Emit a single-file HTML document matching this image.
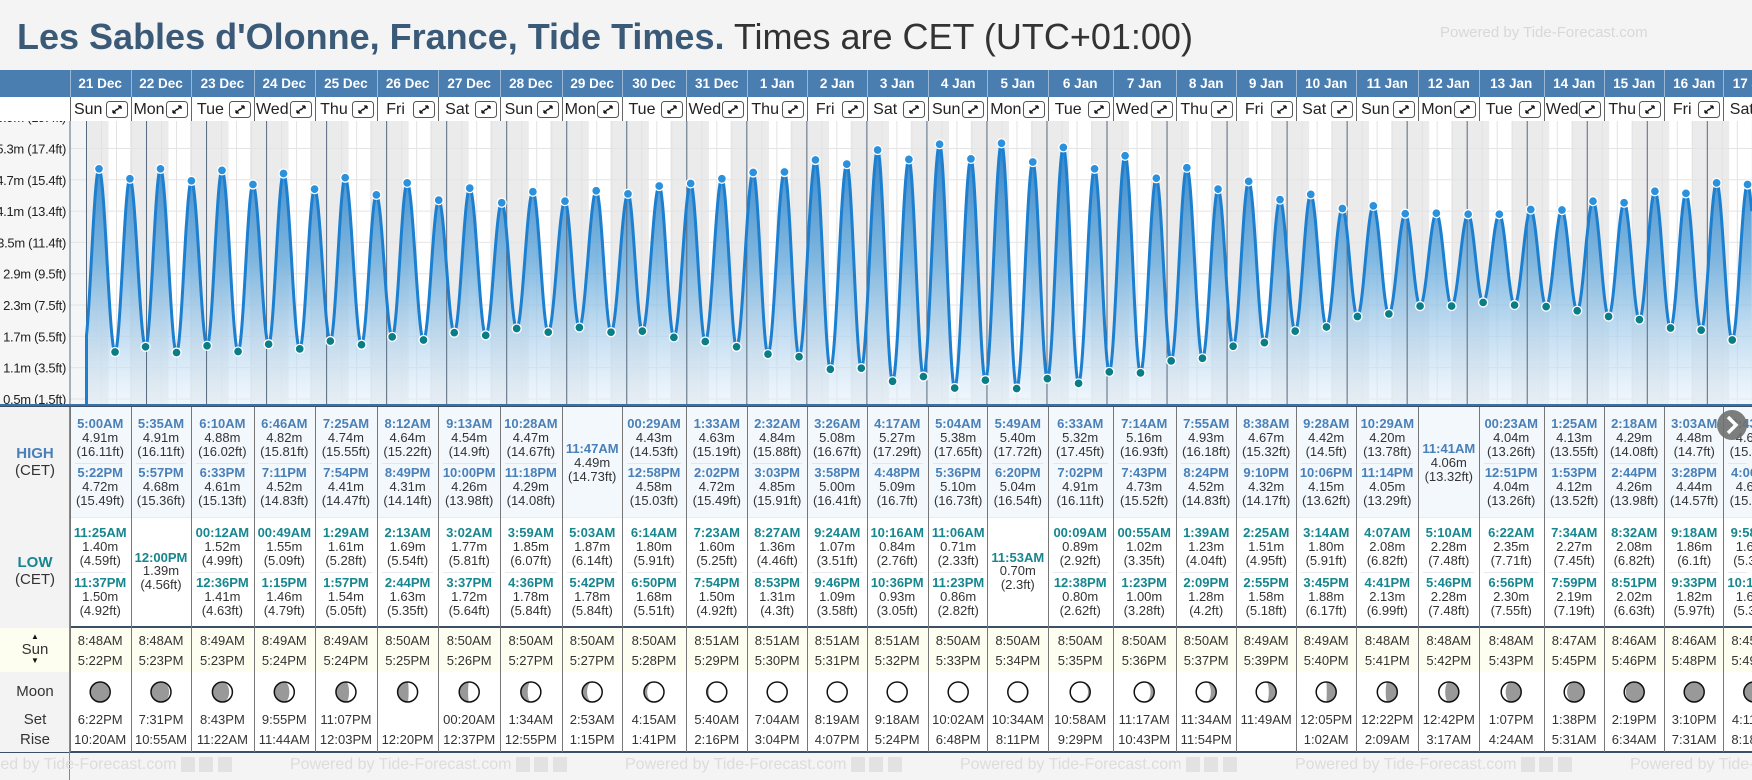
<!DOCTYPE html>
<html><head><meta charset="utf-8">
<style>
*{box-sizing:border-box}
html,body{margin:0;width:1752px;height:780px;overflow:hidden}
body{background:#f4f4f4;font-family:"Liberation Sans",Arial,sans-serif;position:relative}
#wrap{position:absolute;left:0;top:0;width:1752px;height:780px;overflow:hidden}
.a{position:absolute}
.t{position:absolute;left:17px;top:17px;font-size:36px;line-height:40px;white-space:nowrap;color:#333}
.t b{color:#3b5a78}
.pw{position:absolute;top:24px;left:1440px;font-size:15px;color:#d8d8d8;white-space:nowrap}
.c{position:absolute;text-align:center;white-space:nowrap;font-size:13px;line-height:14px;color:#333;overflow:hidden}
.hb{font-weight:bold;color:#4a80b8}
.lb{font-weight:bold;color:#16868f}
</style></head><body>
<div id="wrap">
<div class="t"><b>Les Sables d'Olonne, France, Tide Times.</b> Times are CET (UTC+01:00)</div>
<div class="pw">Powered by Tide-Forecast.com</div>
<div id="root"></div>
</div>
<script>
const B=[69.7,130.5,191.3,253.5,315.1,376.8,438.4,500,561.7,621.7,686.3,746.7,806.7,866.7,927.7,987.3,1047.7,1112.7,1175.7,1235.7,1295.7,1356.3,1418.3,1478.7,1543.7,1603.7,1663.7,1723.3,1752];
const D=[
["21 Dec","Sun",[["5:00AM","4.91","16.11"],["5:22PM","4.72","15.49"]],[["11:25AM","1.40","4.59"],["11:37PM","1.50","4.92"]],["8:48AM","5:22PM"],["6:22PM","10:20AM"]],
["22 Dec","Mon",[["5:35AM","4.91","16.11"],["5:57PM","4.68","15.36"]],[["12:00PM","1.39","4.56"]],["8:48AM","5:23PM"],["7:31PM","10:55AM"]],
["23 Dec","Tue",[["6:10AM","4.88","16.02"],["6:33PM","4.61","15.13"]],[["00:12AM","1.52","4.99"],["12:36PM","1.41","4.63"]],["8:49AM","5:23PM"],["8:43PM","11:22AM"]],
["24 Dec","Wed",[["6:46AM","4.82","15.81"],["7:11PM","4.52","14.83"]],[["00:49AM","1.55","5.09"],["1:15PM","1.46","4.79"]],["8:49AM","5:24PM"],["9:55PM","11:44AM"]],
["25 Dec","Thu",[["7:25AM","4.74","15.55"],["7:54PM","4.41","14.47"]],[["1:29AM","1.61","5.28"],["1:57PM","1.54","5.05"]],["8:49AM","5:24PM"],["11:07PM","12:03PM"]],
["26 Dec","Fri",[["8:12AM","4.64","15.22"],["8:49PM","4.31","14.14"]],[["2:13AM","1.69","5.54"],["2:44PM","1.63","5.35"]],["8:50AM","5:25PM"],["","12:20PM"]],
["27 Dec","Sat",[["9:13AM","4.54","14.9"],["10:00PM","4.26","13.98"]],[["3:02AM","1.77","5.81"],["3:37PM","1.72","5.64"]],["8:50AM","5:26PM"],["00:20AM","12:37PM"]],
["28 Dec","Sun",[["10:28AM","4.47","14.67"],["11:18PM","4.29","14.08"]],[["3:59AM","1.85","6.07"],["4:36PM","1.78","5.84"]],["8:50AM","5:27PM"],["1:34AM","12:55PM"]],
["29 Dec","Mon",[["11:47AM","4.49","14.73"]],[["5:03AM","1.87","6.14"],["5:42PM","1.78","5.84"]],["8:50AM","5:27PM"],["2:53AM","1:15PM"]],
["30 Dec","Tue",[["00:29AM","4.43","14.53"],["12:58PM","4.58","15.03"]],[["6:14AM","1.80","5.91"],["6:50PM","1.68","5.51"]],["8:50AM","5:28PM"],["4:15AM","1:41PM"]],
["31 Dec","Wed",[["1:33AM","4.63","15.19"],["2:02PM","4.72","15.49"]],[["7:23AM","1.60","5.25"],["7:54PM","1.50","4.92"]],["8:51AM","5:29PM"],["5:40AM","2:16PM"]],
["1 Jan","Thu",[["2:32AM","4.84","15.88"],["3:03PM","4.85","15.91"]],[["8:27AM","1.36","4.46"],["8:53PM","1.31","4.3"]],["8:51AM","5:30PM"],["7:04AM","3:04PM"]],
["2 Jan","Fri",[["3:26AM","5.08","16.67"],["3:58PM","5.00","16.41"]],[["9:24AM","1.07","3.51"],["9:46PM","1.09","3.58"]],["8:51AM","5:31PM"],["8:19AM","4:07PM"]],
["3 Jan","Sat",[["4:17AM","5.27","17.29"],["4:48PM","5.09","16.7"]],[["10:16AM","0.84","2.76"],["10:36PM","0.93","3.05"]],["8:51AM","5:32PM"],["9:18AM","5:24PM"]],
["4 Jan","Sun",[["5:04AM","5.38","17.65"],["5:36PM","5.10","16.73"]],[["11:06AM","0.71","2.33"],["11:23PM","0.86","2.82"]],["8:50AM","5:33PM"],["10:02AM","6:48PM"]],
["5 Jan","Mon",[["5:49AM","5.40","17.72"],["6:20PM","5.04","16.54"]],[["11:53AM","0.70","2.3"]],["8:50AM","5:34PM"],["10:34AM","8:11PM"]],
["6 Jan","Tue",[["6:33AM","5.32","17.45"],["7:02PM","4.91","16.11"]],[["00:09AM","0.89","2.92"],["12:38PM","0.80","2.62"]],["8:50AM","5:35PM"],["10:58AM","9:29PM"]],
["7 Jan","Wed",[["7:14AM","5.16","16.93"],["7:43PM","4.73","15.52"]],[["00:55AM","1.02","3.35"],["1:23PM","1.00","3.28"]],["8:50AM","5:36PM"],["11:17AM","10:43PM"]],
["8 Jan","Thu",[["7:55AM","4.93","16.18"],["8:24PM","4.52","14.83"]],[["1:39AM","1.23","4.04"],["2:09PM","1.28","4.2"]],["8:50AM","5:37PM"],["11:34AM","11:54PM"]],
["9 Jan","Fri",[["8:38AM","4.67","15.32"],["9:10PM","4.32","14.17"]],[["2:25AM","1.51","4.95"],["2:55PM","1.58","5.18"]],["8:49AM","5:39PM"],["11:49AM",""]],
["10 Jan","Sat",[["9:28AM","4.42","14.5"],["10:06PM","4.15","13.62"]],[["3:14AM","1.80","5.91"],["3:45PM","1.88","6.17"]],["8:49AM","5:40PM"],["12:05PM","1:02AM"]],
["11 Jan","Sun",[["10:29AM","4.20","13.78"],["11:14PM","4.05","13.29"]],[["4:07AM","2.08","6.82"],["4:41PM","2.13","6.99"]],["8:48AM","5:41PM"],["12:22PM","2:09AM"]],
["12 Jan","Mon",[["11:41AM","4.06","13.32"]],[["5:10AM","2.28","7.48"],["5:46PM","2.28","7.48"]],["8:48AM","5:42PM"],["12:42PM","3:17AM"]],
["13 Jan","Tue",[["00:23AM","4.04","13.26"],["12:51PM","4.04","13.26"]],[["6:22AM","2.35","7.71"],["6:56PM","2.30","7.55"]],["8:48AM","5:43PM"],["1:07PM","4:24AM"]],
["14 Jan","Wed",[["1:25AM","4.13","13.55"],["1:53PM","4.12","13.52"]],[["7:34AM","2.27","7.45"],["7:59PM","2.19","7.19"]],["8:47AM","5:45PM"],["1:38PM","5:31AM"]],
["15 Jan","Thu",[["2:18AM","4.29","14.08"],["2:44PM","4.26","13.98"]],[["8:32AM","2.08","6.82"],["8:51PM","2.02","6.63"]],["8:46AM","5:46PM"],["2:19PM","6:34AM"]],
["16 Jan","Fri",[["3:03AM","4.48","14.7"],["3:28PM","4.44","14.57"]],[["9:18AM","1.86","6.1"],["9:33PM","1.82","5.97"]],["8:46AM","5:48PM"],["3:10PM","7:31AM"]],
["17 Jan","Sat",[["3:43AM","4.64","15.22"],["4:06PM","4.61","15.12"]],[["9:58AM","1.63","5.35"],["10:13PM","1.62","5.31"]],["8:45AM","5:49PM"],["4:11PM","8:18AM"]]
];
function P(s){const m=/(\d+):(\d+)(AM|PM)/.exec(s);let h=(+m[1])%12;if(m[3]=="PM")h+=12;return (h+ +m[2]/60)/24;}
const X=d=>86.5+d*60.03, Y=h=>399-(h-0.5)*52.2;
let ev=[[-0.045,1.45,0],[28.19,4.7,1]];
D.forEach((c,i)=>{c[2].forEach(e=>ev.push([i+P(e[0]),+e[1],1]));c[3].forEach(e=>ev.push([i+P(e[0]),+e[1],0]));});
ev.sort((a,b)=>a[0]-b[0]);
let s='';
let g=`<svg class="a" style="left:0;top:121px" width="1752" height="286" viewBox="0 121 1752 286">
<defs><linearGradient id="gf" x1="0" y1="0" x2="0" y2="1" gradientUnits="objectBoundingBox">
<stop offset="0" stop-color="#2a7fc6" stop-opacity="0.95"/><stop offset="0.45" stop-color="#6eaedd" stop-opacity="0.85"/><stop offset="1" stop-color="#e6f1fb" stop-opacity="0.55"/></linearGradient></defs>
<rect x="0" y="121" width="70" height="284" fill="#f6f6f6"/><rect x="70" y="121" width="1682" height="284" fill="#f3f5f7"/>`;
for(let d=0;d<28;d++){const sr=P(D[d][4][0]),ss=P(D[d][4][1]);
g+=`<rect x="${X(d)}" y="121" width="${X(d+sr)-X(d)}" height="284" fill="#ebebeb"/><rect x="${X(d+sr)}" y="121" width="${X(d+ss)-X(d+sr)}" height="284" fill="#fff"/><rect x="${X(d+ss)}" y="121" width="${X(d+1)-X(d+ss)}" height="284" fill="#ebebeb"/>`;
[0.25,0.5,0.75].forEach(f=>g+=`<line x1="${X(d+f)}" x2="${X(d+f)}" y1="121" y2="405" stroke="#e2e2e2" stroke-width="1"/>`);}
const lv=[[5.9,"19.4"],[5.3,"17.4"],[4.7,"15.4"],[4.1,"13.4"],[3.5,"11.4"],[2.9,"9.5"],[2.3,"7.5"],[1.7,"5.5"],[1.1,"3.5"],[0.5,"1.5"]];
lv.forEach(l=>{g+=`<line x1="70" x2="1752" y1="${Y(l[0])}" y2="${Y(l[0])}" stroke="#e4e4e4"/>`;
g+=`<text x="66" y="${Y(l[0])+5}" text-anchor="end" font-size="13" letter-spacing="-0.3" fill="#222">${l[0].toFixed(1)}m (${l[1]}ft)</text>`;});
function H(d){let k=0;while(k<ev.length-1&&ev[k+1][0]<d)k++;const a=ev[k],b=ev[k+1];const f=(d-a[0])/(b[0]-a[0]);return a[1]+(b[1]-a[1])*(1-Math.cos(Math.PI*f))/2;}
let pts=[];for(let d=0;d<=27.75;d+=0.01)pts.push(X(d).toFixed(1)+","+Y(H(d)).toFixed(1));
g+=`<path d="M86.5,405 L${pts.join(" L")} L1752,405Z" fill="url(#gf)"/>`;
for(let d=0;d<=27;d++)g+=`<line x1="${X(d)}" x2="${X(d)}" y1="121" y2="405" stroke="#56697d" stroke-width="1"/>`;
g+=`<line x1="70" x2="70" y1="121" y2="405" stroke="#56697d"/>`;
g+=`<path d="M86.5,405 L${pts.join(" L")}" fill="none" stroke="#1c7fcf" stroke-width="3" stroke-linejoin="round"/>`;
ev.forEach(e=>{if(e[0]<0||e[0]>27.7)return;g+=`<circle cx="${X(e[0])}" cy="${Y(e[1])}" r="4.5" fill="${e[2]?'#2b91dc':'#0b7d87'}" stroke="#fff" stroke-width="1.3"/>`;});
g+=`<rect x="0" y="404" width="1752" height="2" fill="#3a72a6"/><rect x="0" y="406" width="1752" height="1.5" fill="#3b5068"/></svg>`;
s+=g;
s+=`<div class="a" style="left:0;top:70px;width:1752px;height:27px;background:#4a7db0"></div>`;
s+=`<div class="a" style="left:0;top:97px;width:1752px;height:24px;background:#fff"></div>`;
s+=`<div class="a" style="left:0;top:407px;width:1752px;height:110px;background:#f3f8fd"></div>`;
s+=`<div class="a" style="left:0;top:517px;width:1752px;height:109px;background:#fff;border-top:1px solid #e6ecf2"></div>`;
s+=`<div class="a" style="left:0;top:626px;width:1752px;height:2px;background:#3b5068"></div>`;
s+=`<div class="a" style="left:0;top:628px;width:1752px;height:44px;background:#fdfdf0"></div>`;
s+=`<div class="a" style="left:0;top:672px;width:1752px;height:80px;background:#fff"></div>`;
s+=`<div class="a" style="left:0;top:751px;width:1752px;height:1.5px;background:#3b5068"></div>`;
s+=`<div class="a" style="left:0;top:407px;width:70px;height:345px;background:#f3f3f3"></div>`;
s+=`<div class="a" style="left:0;top:628px;width:70px;height:44px;background:#fdfdf0"></div>`;
s+=`<div class="a" style="left:69px;top:407px;width:1px;height:373px;background:#888"></div>`;
const L=(y,txt,st)=>`<div class="c" style="left:0;width:70px;top:${y-8}px;line-height:16px;${st}">${txt}</div>`;
s+=L(454,"HIGH","font-size:15px;font-weight:bold;color:#4a80b8")+L(471,"(CET)","font-size:15px;color:#333");
s+=L(563,"LOW","font-size:15px;font-weight:bold;color:#16868f")+L(580,"(CET)","font-size:15px;color:#333");
s+=L(637,"▲","font-size:8px;color:#111")+L(650,"Sun","font-size:15px;color:#333")+L(661,"▼","font-size:8px;color:#111");
s+=L(692,"Moon","font-size:15px;color:#333")+L(720,"Set","font-size:15px;color:#333")+L(740,"Rise","font-size:15px;color:#333");
const C=(l,w,y,t,cl)=>`<div class="c ${cl||''}" style="left:${l}px;width:${w}px;top:${y-7}px">${t}</div>`;
function moon(cx,cy,age){const r=10,ph=age/29.53*2*Math.PI%(2*Math.PI),rx=Math.abs(Math.cos(ph))*r;let p;
if(ph<Math.PI){p=`M${cx},${cy-r} A${r},${r} 0 0 0 ${cx},${cy+r} A${rx},${r} 0 0 ${ph<Math.PI/2?0:1} ${cx},${cy-r}Z`;}
else{p=`M${cx},${cy-r} A${r},${r} 0 0 1 ${cx},${cy+r} A${rx},${r} 0 0 ${ph<1.5*Math.PI?0:1} ${cx},${cy-r}Z`;}
return `<circle cx="${cx}" cy="${cy}" r="${r}" fill="#fff"/><path d="${p}" fill="#999"/><circle cx="${cx}" cy="${cy}" r="${r}" fill="none" stroke="#111" stroke-width="1.5"/>`;}
let mo=`<svg class="a" style="left:0;top:0" width="1752" height="780">`;
D.forEach((c,i)=>{const l=B[i],w=B[i+1]-B[i],cx=l+w/2;const full=61;
 s+=`<div class="a" style="left:${l}px;top:70px;width:1px;height:51px;background:#9ab6d2"></div>`;
 s+=`<div class="c" style="left:${l}px;width:${Math.max(w,full)}px;top:77px;color:#fff;font-weight:bold;font-size:13.5px">${c[0]}</div>`;
 s+=`<div class="a" style="left:${l}px;top:97px;width:1px;height:24px;background:#666"></div>`;
 s+=`<div class="c" style="left:${l+2}px;width:${Math.max(w,full)-28}px;top:101px;font-size:16px;line-height:17px;color:#222">${c[1]}</div>`;
 if(i<27)s+=`<svg class="a" style="left:${l+w-25}px;top:101px" width="22" height="17"><rect x="0.5" y="0.5" width="21" height="16" rx="3" fill="#fff" stroke="#555"/><path d="M7,12 L11,8 M7,12 v-3 M7,12 h3 M15,5 L11,9 M15,5 v3 M15,5 h-3" stroke="#111" stroke-width="1.3" fill="none"/></svg>`;
 s+=`<div class="a" style="left:${l}px;top:407px;width:1px;height:345px;background:#777"></div>`;
 const W=Math.max(w,full);
 const hi=c[2];
 if(hi.length==2){[[424,0],[473,1]].forEach(([y,k])=>{s+=C(l,W,y,hi[k][0],"hb")+C(l,W,y+14,hi[k][1]+"m")+C(l,W,y+28,"("+hi[k][2]+"ft)");});
  s+=`<div class="a" style="left:${l+5}px;top:463px;width:${w-10}px;height:1px;background:#e2e7ec"></div>`;}
 else s+=C(l,W,449,hi[0][0],"hb")+C(l,W,463,hi[0][1]+"m")+C(l,W,477,"("+hi[0][2]+"ft)");
 const lo=c[3];
 if(lo.length==2){[[533,0],[583,1]].forEach(([y,k])=>{s+=C(l,W,y,lo[k][0],"lb")+C(l,W,y+14,lo[k][1]+"m")+C(l,W,y+28,"("+lo[k][2]+"ft)");});
  s+=`<div class="a" style="left:${l+5}px;top:572px;width:${w-10}px;height:1px;background:#e6eaee"></div>`;}
 else s+=C(l,W,558,lo[0][0],"lb")+C(l,W,571,lo[0][1]+"m")+C(l,W,585,"("+lo[0][2]+"ft)");
 s+=C(l,W,641,c[4][0])+C(l,W,661,c[4][1]);
 s+=C(l,W,720,c[5][0])+C(l,W,740,c[5][1]);
 mo+=moon(l+W/2,692,i+0.5+1.4);
});
mo+=`<circle cx="1732" cy="425" r="15" fill="#6f6f6f" opacity="0.9"/><path d="M1728,417 L1736,425 L1728,433" stroke="#fff" stroke-width="3.5" fill="none"/></svg>`;
s+=mo;
for(let k=0;k<6;k++)s+=`<div class="a" style="left:${-45+k*335}px;top:756px;font-size:16px;color:#dcdcdc;white-space:nowrap">Powered by Tide-Forecast.com <span style="display:inline-block;width:14px;height:15px;background:#e2e2e2;vertical-align:middle"></span> <span style="display:inline-block;width:14px;height:15px;background:#e2e2e2;vertical-align:middle"></span> <span style="display:inline-block;width:14px;height:15px;background:#e2e2e2;vertical-align:middle"></span></div>`;
document.getElementById('root').innerHTML=s;
</script>
</body></html>
